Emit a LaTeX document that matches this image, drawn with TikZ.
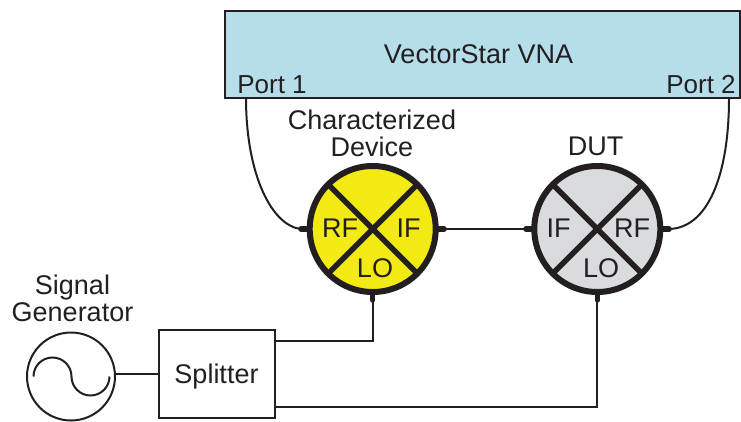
\documentclass[tikz,border=0pt]{standalone}
\usepackage{fontspec}
\setmainfont{Liberation Sans}
\definecolor{vnablue}{HTML}{B5DDEA}
\definecolor{devyellow}{HTML}{F3EA14}
\definecolor{dutgray}{HTML}{D9DBDD}
\definecolor{ink}{HTML}{231F20}
\tikzset{
  lbl/.style={inner sep=0pt,text=ink,font=\fontsize{27}{27}\selectfont,align=center},
  portlbl/.style={lbl,font=\fontsize{26}{28}\selectfont},
  wire/.style={draw=ink,line width=2pt},
  stub/.style={draw=ink,line width=5.5pt,line cap=round},
  mixer/.style={circle,draw=ink,line width=6pt,minimum size=126pt,inner sep=0pt,outer sep=0pt},
  boxed/.style={draw=ink,line width=2pt,inner sep=0pt,outer sep=0pt},
}
\begin{document}
\begin{tikzpicture}[x=1pt,y=-1pt]
\useasboundingbox (0,0) rectangle (741,422);
% VNA
\node[boxed,fill=vnablue,minimum width=515pt,minimum height=87pt,anchor=north west] (vna) at (224.5,11) {};
\node[lbl] (vnat) at (478.5,54) {VectorStar VNA};
\node[portlbl] (p1) at (272,85) {Port 1};
\node[portlbl] (p2) at (701,85) {Port 2};
\coordinate (p1c) at (246,98);
\coordinate (p2c) at (729,98);
% Stubs
\coordinate (cdw) at (301,229);
\coordinate (cde) at (444,229);
\coordinate (cds) at (372.7,300);
\coordinate (dutw) at (526,229);
\coordinate (dute) at (669,229);
\coordinate (duts) at (597.3,300);
% Mixers
\draw[stub] (372.7,229) -- (cdw) (372.7,229) -- (cde) (372.7,229) -- (cds);
\draw[stub] (597.3,229) -- (dutw) (597.3,229) -- (dute) (597.3,229) -- (duts);
\node[mixer,fill=devyellow] (cd) at (372.7,229) {};
\node[mixer,fill=dutgray] (dut) at (597.3,229) {};
\foreach \m in {cd,dut}{
  \draw[ink,line width=5.5pt] (\m.45) -- (\m.225);
  \draw[ink,line width=5.5pt] (\m.135) -- (\m.315);
}
\node[lbl] (cdrf) at (340,228) {RF};
\node[lbl] (cdif) at (408.5,228) {IF};
\node[lbl] (cdlo) at (375,268) {LO};
\node[lbl] (dutif) at (558.5,228) {IF};
\node[lbl] (dutrf) at (632,228) {RF};
\node[lbl] (dutlo) at (601,268) {LO};
\node[lbl] (cdt) at (372,133.5) {Characterized\\Device};
\node[lbl] (dutt) at (595.5,146) {DUT};
% Generator and splitter
\node[circle,draw=ink,line width=2pt,minimum size=88pt,inner sep=0pt,outer sep=0pt] (gen) at (71,376.5) {};
\node[boxed,minimum width=116pt,minimum height=88pt,anchor=north west] (spl) at (158.5,330) {};
\node[lbl] (splt) at (216.5,377) {Splitter};
\node[lbl] (gent) at (72.5,298) {Signal\\Generator};
\draw[wire] (33.5,376.5) arc[start angle=180,end angle=360,radius=19] arc[start angle=180,end angle=0,radius=19];
% Wires
\draw[wire] (gen.east |- spl.west) -- (spl.west);
\draw[wire] (cde) -- (dutw);
\draw[wire] (p1c) .. controls (246,175) and (272,226) .. (cdw);
\draw[wire] (p2c) .. controls (729,175) and (708,228) .. (dute);
\coordinate (sa) at (274.5,341);
\coordinate (sb) at (274.5,406.5);
\draw[wire] (sa) -| (cds);
\draw[wire] (sb) -| (duts);
\end{tikzpicture}
\end{document}
